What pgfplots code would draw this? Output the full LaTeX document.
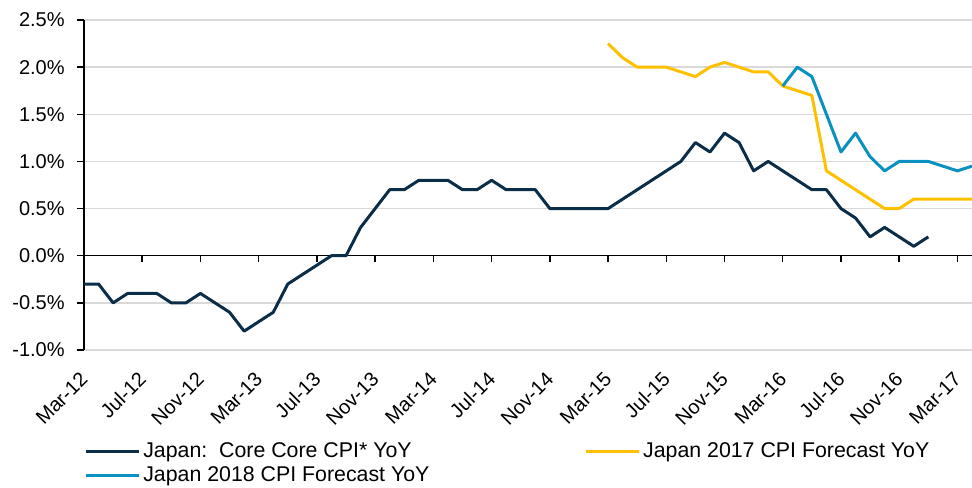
\documentclass[border=0pt]{standalone}
\usepackage{pgfplots}
\pgfplotsset{compat=1.18}
\usepackage{fontspec}
\setmainfont{Liberation Sans}
\definecolor{navy}{HTML}{0B2D48}
\definecolor{gold}{HTML}{FFC000}
\definecolor{sky}{HTML}{0A91C1}
\definecolor{gridgray}{HTML}{D9D9D9}
\begin{document}
\begin{tikzpicture}[x=1pt,y=1pt]
\useasboundingbox (-63,-102.75) rectangle (666,262.5);
\begin{axis}[
  at={(0,0)}, anchor=south west,
  scale only axis, width=666pt, height=247.5pt,
  xmin=0, xmax=61, ymin=-1, ymax=2.5,
  axis lines*=left,
  x axis line style={draw=none},
  y axis line style={black, line width=1.1pt},
  xtick={0,4,...,60},
  xticklabels={Mar-12,Jul-12,Nov-12,Mar-13,Jul-13,Nov-13,Mar-14,Jul-14,Nov-14,Mar-15,Jul-15,Nov-15,Mar-16,Jul-16,Nov-16,Mar-17},
  xtick style={draw=none},
  ytick={-1,-0.5,0,0.5,1,1.5,2,2.5},
  yticklabels={-1.0\%,-0.5\%,0.0\%,0.5\%,1.0\%,1.5\%,2.0\%,2.5\%},
  ytick style={black, line width=1.1pt},
  tick align=outside, major tick length=5pt,
  ymajorgrids, major grid style={gridgray, line width=1.1pt},
  tick label style={font=\fontsize{15}{18}\selectfont},
  xticklabel style={yshift=-12pt, xshift=2.5pt, rotate=45, anchor=east},
  yticklabel style={xshift=-6pt, anchor=east},
  clip=false,
  legend columns=2,
  legend cell align=left,
  legend style={draw=none, fill=none, at={(0,-0.272)}, anchor=north west,
    font=\fontsize{16}{18}\selectfont, inner sep=0pt, row sep=1.5pt,
    /tikz/every even column/.append style={column sep=114pt}},
  legend image code/.code={\draw[#1] (0pt,0pt) -- (40pt,0pt);},
  every axis plot/.append style={line width=2.25pt, line join=round, no markers},
]
\draw[black, line width=1.1pt] (axis cs:0,0) -- (axis cs:61,0);
\pgfplotsinvokeforeach{0,4,...,60}{\draw[black, line width=1.1pt] (axis cs:#1,0) -- ([yshift=-4.5pt]axis cs:#1,0);}
\addplot[navy] coordinates {
(0,-0.3)(1,-0.3)(2,-0.5)(3,-0.4)(4,-0.4)(5,-0.4)(6,-0.5)(7,-0.5)(8,-0.4)(9,-0.5)
(10,-0.6)(11,-0.8)(12,-0.7)(13,-0.6)(14,-0.3)(15,-0.2)(16,-0.1)(17,0.0)(18,0.0)(19,0.3)
(20,0.5)(21,0.7)(22,0.7)(23,0.8)(24,0.8)(25,0.8)(26,0.7)(27,0.7)(28,0.8)(29,0.7)
(30,0.7)(31,0.7)(32,0.5)(33,0.5)(34,0.5)(35,0.5)(36,0.5)(37,0.6)(38,0.7)(39,0.8)
(40,0.9)(41,1.0)(42,1.2)(43,1.1)(44,1.3)(45,1.2)(46,0.9)(47,1.0)(48,0.9)(49,0.8)
(50,0.7)(51,0.7)(52,0.5)(53,0.4)(54,0.2)(55,0.3)(56,0.2)(57,0.1)(58,0.2)
};
\addlegendentry{Japan:\ \ Core Core CPI* YoY}
\addplot[gold] coordinates {
(36,2.25)(37,2.1)(38,2.0)(39,2.0)(40,2.0)(41,1.95)(42,1.9)(43,2.0)(44,2.05)(45,2.0)
(46,1.95)(47,1.95)(48,1.8)(49,1.75)(50,1.7)(51,0.9)(52,0.8)(53,0.7)(54,0.6)(55,0.5)
(56,0.5)(57,0.6)(58,0.6)(59,0.6)(60,0.6)(61,0.6)
};
\addlegendentry{Japan 2017 CPI Forecast YoY}
\addplot[sky] coordinates {
(48,1.8)(49,2.0)(50,1.9)(51,1.5)(52,1.1)(53,1.3)(54,1.05)(55,0.9)(56,1.0)(57,1.0)
(58,1.0)(59,0.95)(60,0.9)(61,0.95)
};
\addlegendentry{Japan 2018 CPI Forecast YoY}
\end{axis}
\end{tikzpicture}
\end{document}
